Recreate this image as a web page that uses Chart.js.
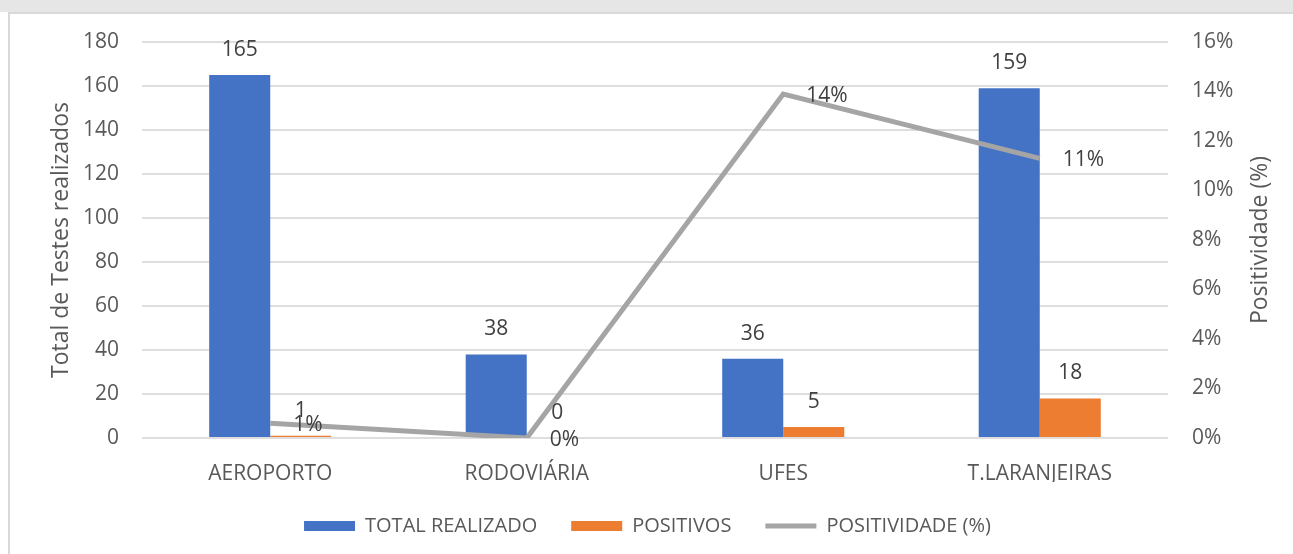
<!DOCTYPE html>
<html>
<head>
<meta charset="utf-8">
<script src="https://cdn.jsdelivr.net/npm/chart.js@4"></script>
<style>
  body { margin: 0; background: #fff; }
  .band { position: absolute; left: 0; top: 0; width: 1293px; height: 12px; background: #e6e6e6; }
  .frame { position: absolute; left: 8px; top: 12px; width: 1290px; height: 550px;
           border-left: 2px solid #d9d9d9; border-top: 2px solid #d9d9d9; }
  #chart { position: absolute; left: 0; top: 0; }
</style>
</head>
<body>
<div class="band"></div>
<div class="frame"></div>
<canvas id="chart" width="1293" height="554"></canvas>
<script>
// Data
const locais = ['AEROPORTO', 'RODOVIÁRIA', 'UFES', 'T.LARANJEIRAS'];
const totalRealizado = [165, 38, 36, 159];
const positivos = [1, 0, 5, 18];
const positividade = [0.6, 0, 13.9, 11.3]; // percent

const FONT = "'Open Sans', sans-serif";
const rightTitle = 'Positividade (%)';

// Draws the value labels next to bars and line points, plus the right axis title (reading upwards)
const valueLabels = {
    id: 'valueLabels',
    afterDatasetsDraw(chart) {
        const ctx = chart.ctx;
        ctx.save();
        ctx.font = '21px ' + FONT;
        ctx.fillStyle = '#404040';
        ctx.textBaseline = 'middle';
        chart.data.datasets.forEach((ds, i) => {
            const meta = chart.getDatasetMeta(i);
            meta.data.forEach((el, j) => {
                const v = ds.data[j];
                if (ds.type === 'line') {
                    ctx.textAlign = 'left';
                    ctx.fillText(Math.round(v) + '%', el.x + 23, el.y + 2);
                } else {
                    ctx.textAlign = 'center';
                    ctx.fillText(String(v), el.x, el.y - 25);
                }
            });
        });

        const area = chart.chartArea;
        ctx.translate(1260, (area.top + area.bottom) / 2);
        ctx.rotate(-Math.PI / 2);
        ctx.textAlign = 'center';
        ctx.fillStyle = '#595959';
        ctx.font = '23px ' + FONT;
        ctx.fillText(rightTitle, 0, 0);
        ctx.restore();
    }
};

const ctx = document.getElementById('chart');

// eslint-disable-next-line no-undef
const chart = new Chart(ctx, {
    data: {
        labels: locais,
        datasets: [{
            type: 'bar',
            label: 'TOTAL REALIZADO',
            data: totalRealizado,
            backgroundColor: '#4472C4',
            yAxisID: 'y',
            order: 1,
            pointStyle: 'rect'
        }, {
            type: 'bar',
            label: 'POSITIVOS',
            data: positivos,
            backgroundColor: '#ED7D31',
            yAxisID: 'y',
            order: 1,
            pointStyle: 'rect'
        }, {
            type: 'line',
            label: 'POSITIVIDADE (%)',
            data: positividade,
            borderColor: '#A5A5A5',
            backgroundColor: '#A5A5A5',
            borderWidth: 5,
            pointRadius: 0,
            tension: 0,
            yAxisID: 'y1',
            order: 0,
            pointStyle: 'line'
        }]
    },
    options: {
        responsive: false,
        animation: false,
        devicePixelRatio: 1,
        datasets: {
            bar: { categoryPercentage: 0.476, barPercentage: 1 }
        },
        layout: { padding: { left: 12, right: 10, top: 42, bottom: 8 } },
        scales: {
            x: {
                grid: { display: false },
                border: { display: false },
                ticks: { color: '#595959', font: { family: FONT, size: 21 }, padding: 15, maxRotation: 0 },
                afterFit(scale) { scale.height = 44; }
            },
            y: {
                position: 'left',
                min: 0,
                max: 180,
                ticks: { stepSize: 20, color: '#595959', font: { family: FONT, size: 21 }, padding: 23 },
                grid: { color: '#dedede', lineWidth: 2, drawTicks: false },
                border: { display: false },
                title: {
                    display: true,
                    text: 'Total de Testes realizados',
                    color: '#595959',
                    font: { family: FONT, size: 23 },
                    padding: { top: 36, bottom: 0 }
                },
                afterFit(scale) { scale.width = 130; }
            },
            y1: {
                position: 'right',
                min: 0,
                max: 16,
                ticks: {
                    stepSize: 2,
                    color: '#595959',
                    font: { family: FONT, size: 21 },
                    padding: 24,
                    callback: v => v + '%'
                },
                grid: { display: false, drawTicks: false },
                border: { display: false },
                afterFit(scale) { scale.width = 115; }
            }
        },
        plugins: {
            tooltip: { enabled: false },
            legend: {
                position: 'bottom',
                labels: {
                    color: '#595959',
                    font: { family: FONT, size: 20 },
                    usePointStyle: true,
                    pointStyleWidth: 51,
                    boxHeight: 10,
                    padding: 34,
                    sort: (a, b) => a.datasetIndex - b.datasetIndex,
                    generateLabels(chart) {
                        const items = Chart.defaults.plugins.legend.labels.generateLabels(chart);
                        items.forEach(it => {
                            const ds = chart.data.datasets[it.datasetIndex];
                            it.pointStyle = ds.pointStyle;
                            it.fillStyle = ds.backgroundColor;
                            it.strokeStyle = ds.type === 'line' ? ds.borderColor : ds.backgroundColor;
                            it.lineWidth = ds.type === 'line' ? 5 : 0;
                        });
                        return items;
                    }
                }
            }
        }
    },
    plugins: [valueLabels]
});
</script>
</body>
</html>
